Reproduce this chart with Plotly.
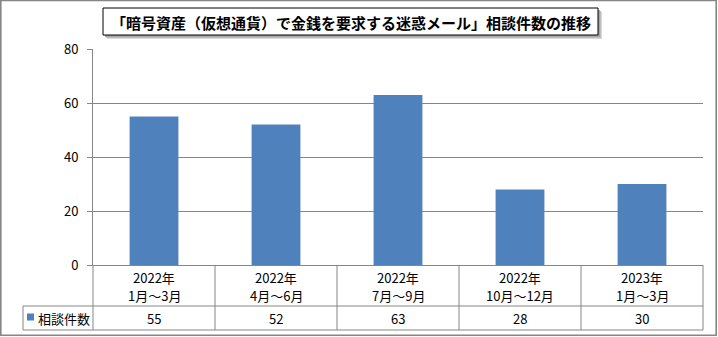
import plotly.graph_objects as go

# ---- data ----
title_text = "「暗号資産（仮想通貨）で金銭を要求する迷惑メール」相談件数の推移"
years = ["2022年", "2022年", "2022年", "2022年", "2023年"]
periods = ["1月～3月", "4月～6月", "7月～9月", "10月～12月", "1月～3月"]
series_name = "相談件数"
values = [55, 52, 63, 28, 30]
y_ticks = [0, 20, 40, 60, 80]

categories = [f"{y} {p}" for y, p in zip(years, periods)]

# ---- geometry helpers (pixel -> paper) ----
W, H = 718, 337
L, R, T, B = 93, 15, 49, 72
PW, PH = W - L - R, H - T - B


def px_x(px):
    return (px - L) / PW


def px_y(py):
    return (H - B - py) / PH


FONT = "Noto Sans CJK JP"
GRAY = "#868686"
BLUE = "#4F81BD"

fig = go.Figure()
fig.add_trace(go.Bar(x=categories, y=values, name=series_name,
                     marker=dict(color=BLUE, line=dict(width=0)),
                     showlegend=False))

shapes = []
annotations = []

# outer border
shapes.append(dict(type="rect", xref="paper", yref="paper",
                   x0=px_x(0.8), x1=px_x(716.2), y0=px_y(335.2), y1=px_y(0.5),
                   line=dict(color=GRAY, width=1.6), layer="below"))

# title box with shadow
bx0, bx1, by0, by1 = 103, 598, 8, 35
for off, col in [(4, "#d9d9d9"), (3, "#bfbfbf"), (2, "#a6a6a6")]:
    shapes.append(dict(type="rect", xref="paper", yref="paper",
                       x0=px_x(bx0 + off), x1=px_x(bx1 + off),
                       y0=px_y(by1 + off), y1=px_y(by0 + off),
                       fillcolor=col, line=dict(width=0)))
shapes.append(dict(type="rect", xref="paper", yref="paper",
                   x0=px_x(bx0), x1=px_x(bx1), y0=px_y(by1), y1=px_y(by0),
                   fillcolor="white", line=dict(color="black", width=1)))
annotations.append(dict(xref="paper", yref="paper",
                        x=px_x((bx0 + bx1) / 2), y=px_y((by0 + by1) / 2 + 0.5),
                        text=f"<b>{title_text}</b>", showarrow=False,
                        font=dict(family=FONT, size=15, color="black"),
                        xanchor="center", yanchor="middle"))

# data table
n = len(categories)
row1_bottom = px_y(306)
row2_bottom = px_y(330)
legend_left = px_x(23)
for i in range(n + 1):
    shapes.append(dict(type="line", xref="paper", yref="paper",
                       x0=i / n, x1=i / n, y0=0, y1=row2_bottom,
                       line=dict(color=GRAY, width=1)))
for yy in (row1_bottom, row2_bottom):
    shapes.append(dict(type="line", xref="paper", yref="paper",
                       x0=legend_left, x1=1, y0=yy, y1=yy,
                       line=dict(color=GRAY, width=1)))
shapes.append(dict(type="line", xref="paper", yref="paper",
                   x0=legend_left, x1=legend_left, y0=row1_bottom, y1=row2_bottom,
                   line=dict(color=GRAY, width=1)))

cell_font = dict(family=FONT, size=13, color="black")
for cat, yr, pr, v in zip(categories, years, periods, values):
    annotations.append(dict(xref="x", yref="paper", x=cat, y=px_y(277.5),
                            text=yr, showarrow=False, font=cell_font,
                            xanchor="center", yanchor="middle"))
    annotations.append(dict(xref="x", yref="paper", x=cat, y=px_y(295.5),
                            text=pr, showarrow=False, font=cell_font,
                            xanchor="center", yanchor="middle"))
    annotations.append(dict(xref="x", yref="paper", x=cat, y=px_y(318.5),
                            text=str(v), showarrow=False, font=cell_font,
                            xanchor="center", yanchor="middle"))

# legend key in table
shapes.append(dict(type="rect", xref="paper", yref="paper",
                   x0=px_x(27), x1=px_x(34), y0=px_y(320.5), y1=px_y(313.5),
                   fillcolor=BLUE, line=dict(width=0)))
annotations.append(dict(xref="paper", yref="paper", x=px_x(36), y=px_y(318.5),
                        text=series_name, showarrow=False, font=cell_font,
                        xanchor="left", yanchor="middle"))

fig.update_layout(
    width=W, height=H,
    margin=dict(l=L, r=R, t=T, b=B, pad=0),
    paper_bgcolor="white", plot_bgcolor="white",
    bargap=0.6,
    shapes=shapes, annotations=annotations,
    font=dict(family=FONT, size=13, color="black"),
    xaxis=dict(type="category", range=[-0.5, n - 0.5], showticklabels=False,
               showline=True, linecolor=GRAY, linewidth=1, ticks="",
               showgrid=False, zeroline=False, fixedrange=True),
    yaxis=dict(range=[0, 80], tickvals=y_ticks, ticks="outside", ticklen=5,
               tickcolor=GRAY, showline=True, linecolor=GRAY, linewidth=1,
               gridcolor=GRAY, gridwidth=1, zeroline=False,
               tickfont=dict(family=FONT, size=13, color="black"),
               ticklabelstandoff=6, fixedrange=True),
)

fig.write_html("out.html")
